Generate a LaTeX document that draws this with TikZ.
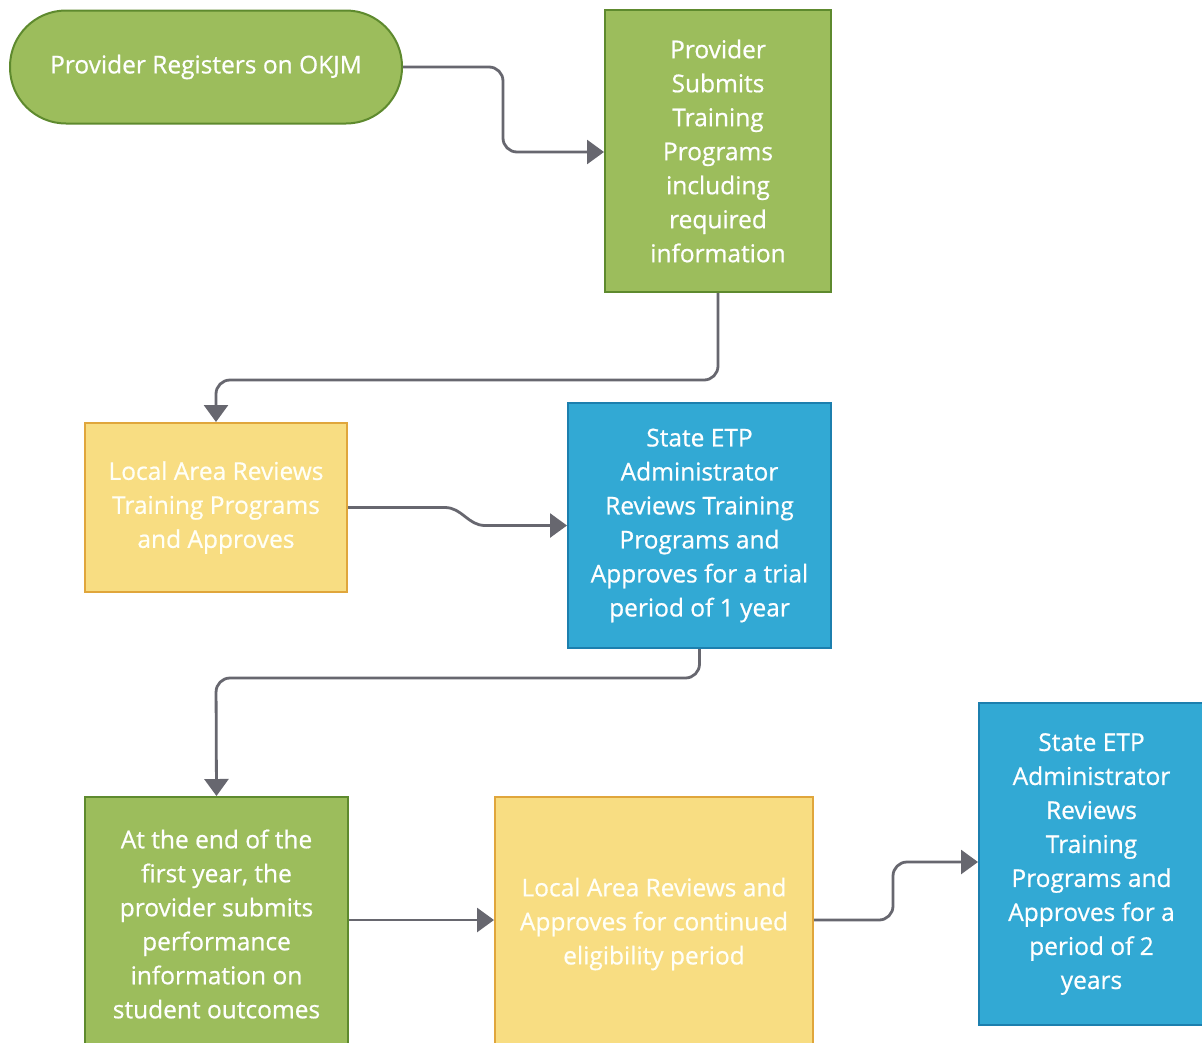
\documentclass[tikz,border=0pt]{standalone}
\usepackage{fontspec}
\setmainfont{Open Sans}
\newfontfamily\boxfont{Open Sans}[RawFeature={embolden=0.7}]
\usetikzlibrary{arrows.meta}
\definecolor{gfill}{HTML}{9CBD5C}
\definecolor{gline}{HTML}{5E8A2E}
\definecolor{yfill}{HTML}{F8DD82}
\definecolor{yline}{HTML}{E0A63C}
\definecolor{bfill}{HTML}{32A9D4}
\definecolor{bline}{HTML}{1C7FAE}
\definecolor{conncol}{HTML}{67676F}
\tikzset{
  box/.style={draw, line width=2pt, align=center, text=white, inner sep=0pt,
    font=\boxfont\fontsize{24.5}{34}\selectfont},
  greenbox/.style={box, fill=gfill, draw=gline},
  yellowbox/.style={box, fill=yfill, draw=yline, text=white!97!yellow},
  bluebox/.style={box, fill=bfill, draw=bline},
  conn/.style={draw=conncol, line width=2.8pt, rounded corners=14pt,
    -{Triangle[length=17pt,width=24pt]}},
}
\begin{document}
\begin{tikzpicture}[x=1pt,y=-1pt]
\useasboundingbox[fill=white] (0,0) rectangle (1202,1042);
\node[greenbox, rounded corners=56pt, minimum width=392pt, minimum height=113pt] (t) at (206,67) {Provider Registers on OKJM};
\node[greenbox, minimum width=226pt, minimum height=282pt] (b2) at (718,151) {Provider\\Submits\\Training\\Programs\\including\\required\\information};
\node[yellowbox, minimum width=262pt, minimum height=169pt] (b3) at (216,507.5) {Local Area Reviews\\Training Programs\\and Approves};
\node[bluebox, minimum width=263pt, minimum height=245pt] (b4) at (699.5,525.5) {State ETP\\Administrator\\Reviews Training\\Programs and\\Approves for a trial\\period of 1 year};
\node[greenbox, minimum width=263pt, minimum height=254pt] (b5) at (216.5,924) {At the end of the\\first year, the\\provider submits\\performance\\information on\\student outcomes};
\node[yellowbox, minimum width=318pt, minimum height=254pt] (b6) at (654,924) {Local Area Reviews and\\Approves for continued\\eligibility period};
\node[bluebox, minimum width=225pt, minimum height=322pt] (b7) at (1091.5,864) {State ETP\\Administrator\\Reviews\\Training\\Programs and\\Approves for a\\period of 2\\years};
\draw[conn] (t.east) -- (503,67) |- (b2.west |- 0,152);
\draw[conn] (b2.south) |- (216,380) -- (b3.north);
\draw[conn, rounded corners=0pt] (b3.east) -- (445,507.5) .. controls (462,507.5) and (468,525.5) .. (485,525.5) -- (b4.west |- 0,525.5);
\draw[conn] (b4.south) |- (216,678) -- (b5.north);
\draw[conn] (b5.east |- 920,920) -- (b6.west |- 920,920);
\draw[conn] (b6.east |- 920,920) -- (893,920) |- (b7.west |- 0,862);
\end{tikzpicture}
\end{document}
